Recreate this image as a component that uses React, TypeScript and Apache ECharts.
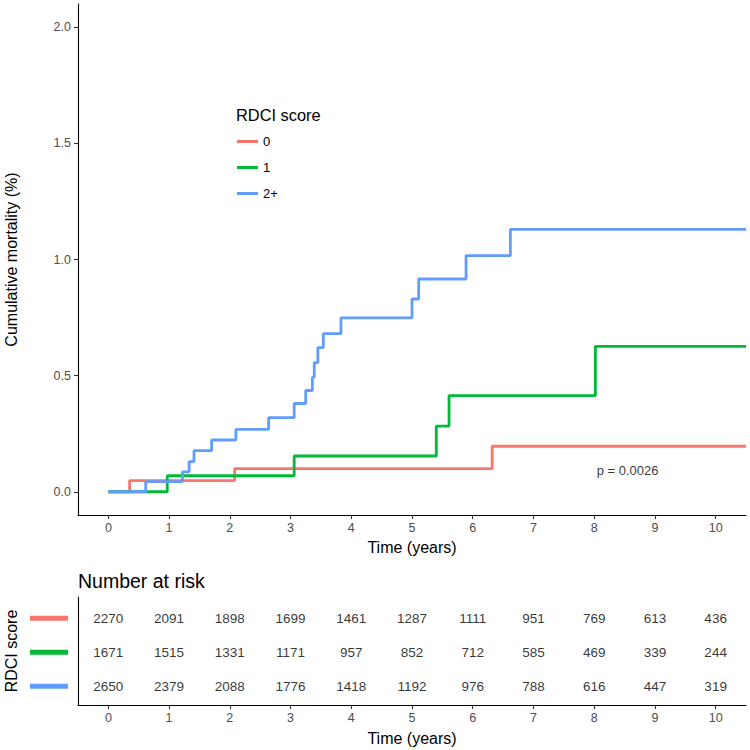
import React, { useEffect, useRef } from "react";
import * as echarts from "echarts";

// ---- data ----
const SCORE_GROUPS = ["0", "1", "2+"];
const GROUP_COLORS = ["#F8766D", "#00BA38", "#619CFF"];
const TIME_TICKS = [0, 1, 2, 3, 4, 5, 6, 7, 8, 9, 10];
const MORT_TICKS = [0, 0.5, 1, 1.5, 2];

const TIME_0 = [0, 0.35, 2.08, 6.32];
const CUM_0 = [0, 0.048, 0.1, 0.196];
const TIME_1 = [0, 0.97, 3.06, 5.4, 5.61, 8.02];
const CUM_1 = [0, 0.069, 0.154, 0.283, 0.414, 0.626];
const TIME_2 = [0, 0.615, 1.22, 1.33, 1.41, 1.7, 2.1, 2.64, 3.06, 3.25, 3.36, 3.39, 3.45, 3.54, 3.83, 5.0, 5.11, 5.89, 6.62];
const CUM_2 = [0, 0.044, 0.086, 0.13, 0.177, 0.223, 0.269, 0.319, 0.38, 0.436, 0.493, 0.556, 0.621, 0.681, 0.749, 0.83, 0.916, 1.017, 1.13];
const TIME_END = 10.5;

const RISK_0 = [2270, 2091, 1898, 1699, 1461, 1287, 1111, 951, 769, 613, 436];
const RISK_1 = [1671, 1515, 1331, 1171, 957, 852, 712, 585, 469, 339, 244];
const RISK_2 = [2650, 2379, 2088, 1776, 1418, 1192, 976, 788, 616, 447, 319];

const P_TEXT = "p = 0.0026";
const P_AT = [8.55, 0.09];

const FONT = "Liberation Sans, Arial, Helvetica, sans-serif";

function steps(t: number[], y: number[]) {
  const d = t.map((v, i) => [v, y[i]]);
  d.push([TIME_END, y[y.length - 1]]);
  return d;
}

export default function App() {
  const ref = useRef<HTMLDivElement>(null);
  useEffect(() => {
    if (!ref.current) return;
    const chart = echarts.init(ref.current, null, { renderer: "svg" });
    const curves = [steps(TIME_0, CUM_0), steps(TIME_1, CUM_1), steps(TIME_2, CUM_2)];
    const risks = [RISK_0, RISK_1, RISK_2];

    const gridMain = { left: 78, top: 4, width: 668, height: 511, outerBoundsMode: "none", containLabel: false };
    const gridTab = { left: 78, top: 597, width: 668, height: 108, outerBoundsMode: "none", containLabel: false };
    const tabMin = 0.374, tabMax = 3.55;
    const rowY = (r: number) => gridTab.top + ((r - tabMin) / (tabMax - tabMin)) * gridTab.height;

    const axisLine = { show: true, onZero: false, lineStyle: { color: "#000", width: 1.1 } };
    const xCommon = (gi: number, gap: number) => ({
      type: "value",
      gridIndex: gi,
      min: -0.5,
      max: 10.5,
      axisLine,
      axisTick: { show: true, customValues: TIME_TICKS, length: 4, lineStyle: { color: "#333", width: 1.1 } },
      axisLabel: { customValues: TIME_TICKS, color: "#4D4D4D", fontSize: 12.5, margin: 6, fontFamily: FONT },
      splitLine: { show: false },
      name: "Time (years)",
      nameLocation: "middle",
      nameGap: gap,
      nameTextStyle: { fontSize: 16, color: "#000", fontFamily: FONT },
    });

    const series: any[] = curves.map((c, i) => ({
      type: "line",
      name: SCORE_GROUPS[i],
      data: c,
      step: "end",
      symbol: "none",
      color: GROUP_COLORS[i],
      lineStyle: { width: 2.8, color: GROUP_COLORS[i] },
      xAxisIndex: 0,
      yAxisIndex: 0,
      silent: true,
    }));

    series.push({
      type: "scatter",
      name: "pval",
      xAxisIndex: 0,
      yAxisIndex: 0,
      data: [P_AT],
      symbolSize: 0.1,
      itemStyle: { color: "transparent" },
      label: { show: true, position: "inside", formatter: P_TEXT, color: "#000", fontSize: 13, fontFamily: FONT },
      silent: true,
    });

    risks.forEach((arr, gi) => {
      series.push({
        type: "scatter",
        name: "risk" + gi,
        xAxisIndex: 1,
        yAxisIndex: 1,
        data: arr.map((n, k) => [TIME_TICKS[k], gi + 1, n]),
        symbolSize: 0.1,
        itemStyle: { color: "transparent" },
        label: {
          show: true,
          position: "inside",
          formatter: (p: any) => String(p.value[2]),
          color: "#000",
          fontSize: 13.5,
          fontFamily: FONT,
        },
        silent: true,
      });
    });

    const graphics: any[] = [
      {
        type: "text",
        x: 236,
        y: 115,
        style: { text: "RDCI score", fill: "#000", font: `16.4px ${FONT}`, verticalAlign: "middle", align: "left" },
      },
      {
        type: "text",
        x: 78,
        y: 581,
        style: { text: "Number at risk", fill: "#000", font: `19.5px ${FONT}`, verticalAlign: "middle", align: "left" },
      },
    ];
    GROUP_COLORS.forEach((c, i) => {
      graphics.push({
        type: "rect",
        shape: { x: 30, y: rowY(i + 1) - 2.5, width: 38, height: 5 },
        style: { fill: c },
      });
    });

    chart.setOption({
      animation: false,
      textStyle: { fontFamily: FONT },
      grid: [gridMain, gridTab],
      legend: {
        data: SCORE_GROUPS,
        orient: "vertical",
        left: 232,
        top: 130,
        icon: "rect",
        itemWidth: 21,
        itemHeight: 3,
        itemGap: 13,
        textStyle: { fontSize: 13, color: "#000", fontFamily: FONT },
        selectedMode: false,
      },
      xAxis: [xCommon(0, 24), xCommon(1, 25)],
      yAxis: [
        {
          type: "value",
          gridIndex: 0,
          min: -0.1,
          max: 2.1,
          axisLine,
          axisTick: { show: true, customValues: MORT_TICKS, length: 4, lineStyle: { color: "#333", width: 1.1 } },
          axisLabel: {
            customValues: MORT_TICKS,
            color: "#4D4D4D",
            fontSize: 12.5,
            margin: 7,
            fontFamily: FONT,
            formatter: (v: number) => v.toFixed(1),
          },
          splitLine: { show: false },
          name: "Cumulative mortality (%)",
          nameLocation: "middle",
          nameGap: 59,
          nameTextStyle: { fontSize: 16, color: "#000", fontFamily: FONT },
        },
        {
          type: "value",
          gridIndex: 1,
          min: tabMin,
          max: tabMax,
          inverse: true,
          axisLine,
          axisTick: { show: false },
          axisLabel: { show: false },
          splitLine: { show: false },
          name: "RDCI score",
          nameLocation: "middle",
          nameGap: 59,
          nameTextStyle: { fontSize: 16, color: "#000", fontFamily: FONT },
        },
      ],
      series,
      graphic: graphics,
    });
    return () => chart.dispose();
  }, []);
  return <div ref={ref} style={{ position: "absolute", left: 0, top: 0, width: 750, height: 750 }} />;
}
